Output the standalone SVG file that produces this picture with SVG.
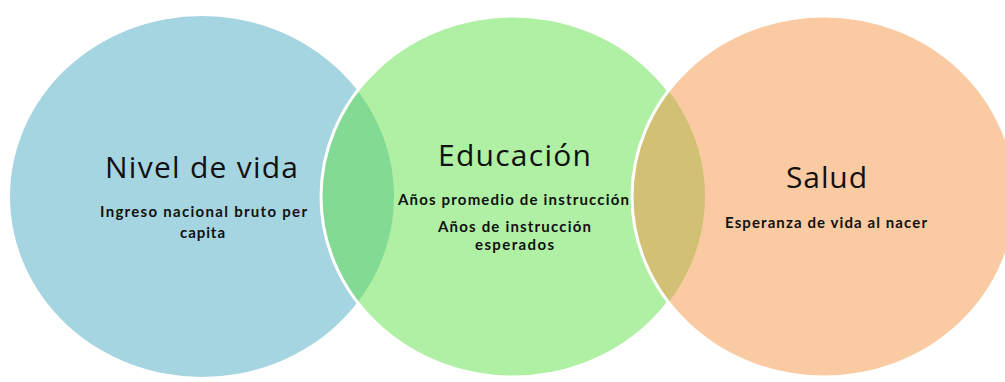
<svg xmlns="http://www.w3.org/2000/svg" width="1005" height="382" viewBox="0 0 1005 382">
<style>
.h{font-family:"Open Sans","DejaVu Sans",sans-serif;font-size:30px;fill:#111;text-anchor:middle}
.s{font-family:Lato,"Open Sans","DejaVu Sans",sans-serif;font-size:15px;font-weight:bold;fill:#111;text-anchor:middle}
</style>
<defs>
<clipPath id="cb"><ellipse cx="202" cy="196.5" rx="192" ry="180.5"/></clipPath>
<clipPath id="cg"><ellipse cx="513" cy="196.5" rx="192" ry="180.5"/></clipPath>
</defs>
<g id="nivel">
<ellipse cx="202" cy="196.5" rx="192" ry="180.5" fill="#A6D5E2"/>
</g>
<g id="educacion">
<ellipse cx="513" cy="196.5" rx="192" ry="180.5" fill="#B0F0A4"/>
<ellipse cx="513" cy="196.5" rx="192" ry="180.5" fill="#82DA94" clip-path="url(#cb)"/>
<ellipse cx="513" cy="196.5" rx="192" ry="180.5" fill="none" stroke="#fff" stroke-width="3"/>
</g>
<g id="salud">
<ellipse cx="824" cy="196.5" rx="192" ry="180.5" fill="#FACAA3"/>
<ellipse cx="824" cy="196.5" rx="192" ry="180.5" fill="#D2C075" clip-path="url(#cg)"/>
<ellipse cx="824" cy="196.5" rx="192" ry="180.5" fill="none" stroke="#fff" stroke-width="3"/>
</g>
<g id="texts">
<text class="h" x="201.5" y="178" textLength="193" lengthAdjust="spacing">Nivel de vida</text>
<text class="s" x="203.5" y="217" textLength="207" lengthAdjust="spacing">Ingreso nacional bruto per</text>
<text class="s" x="202.5" y="238" textLength="45" lengthAdjust="spacing">capita</text>
<text class="h" x="514.5" y="166" textLength="153" lengthAdjust="spacing">Educación</text>
<text class="s" x="513.5" y="205" textLength="231" lengthAdjust="spacing">Años promedio de instrucción</text>
<text class="s" x="514.5" y="232" textLength="153" lengthAdjust="spacing">Años de instrucción</text>
<text class="s" x="514.5" y="250" textLength="79" lengthAdjust="spacing">esperados</text>
<text class="h" x="826.5" y="188" textLength="81" lengthAdjust="spacing">Salud</text>
<text class="s" x="826" y="228" textLength="202" lengthAdjust="spacing">Esperanza de vida al nacer</text>
</g>
</svg>
